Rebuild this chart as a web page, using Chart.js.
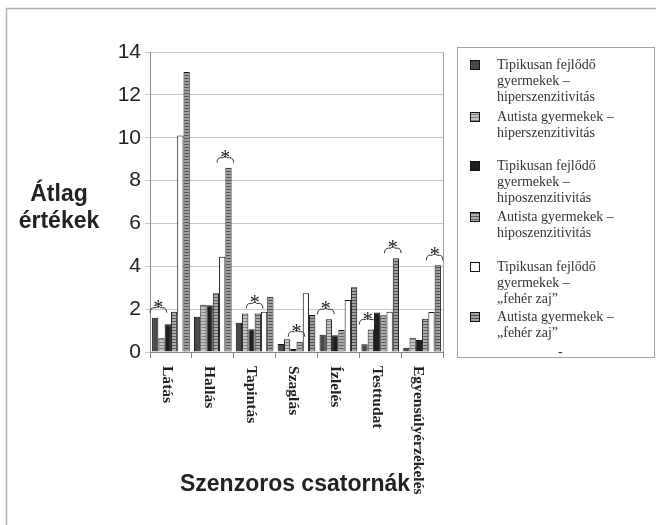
<!DOCTYPE html>
<html>
<head>
<meta charset="utf-8">
<script src="https://cdn.jsdelivr.net/npm/chart.js@4"></script>
<style>
  body { margin: 0; background: #fff; }
  #wrap { width: 656px; height: 525px; }
</style>
</head>
<body>
<div id="wrap"><canvas id="myChart" width="656" height="525"></canvas></div>
<script>
const categories = ['Látás', 'Hallás', 'Tapintás', 'Szaglás', 'Ízlelés', 'Testtudat', 'Egyensúlyérzékelés'];
const seriesNames = [
  'Tipikusan fejlődő\ngyermekek –\nhiperszenzitivitás',
  'Autista gyermekek –\nhiperszenzitivitás',
  'Tipikusan fejlődő\ngyermekek –\nhiposzenzitivitás',
  'Autista gyermekek –\nhiposzenzitivitás',
  'Tipikusan fejlődő\ngyermekek –\n„fehér zaj”',
  'Autista gyermekek –\n„fehér zaj”'
];
const hiperTD  = [1.6, 1.65, 1.37, 0.37, 0.8, 0.36, 0.2];
const hiperAut = [0.64, 2.2, 1.8, 0.6, 1.53, 1.05, 0.67];
const hipoTD   = [1.3, 2.18, 1.06, 0.14, 0.78, 1.84, 0.56];
const hipoAut  = [1.88, 2.74, 1.8, 0.48, 1.03, 1.72, 1.55];
const zajTD    = [10.1, 4.45, 1.88, 2.74, 2.43, 1.88, 1.87];
const zajAut   = [13.07, 8.6, 2.58, 1.73, 3.02, 4.38, 4.05];
const yTicks = [0, 2, 4, 6, 8, 10, 12, 14];

// significance marks: category, first bar, last bar (series index)
const sigCategory = [0, 1, 2, 3, 4, 5, 5, 6];
const sigFrom     = [0, 4, 2, 2, 0, 0, 4, 4];
const sigTo       = [1, 5, 3, 3, 1, 1, 5, 5];

function stripes(bg, line) {
  const c = document.createElement('canvas');
  c.width = 6; c.height = 3;
  const g = c.getContext('2d');
  g.fillStyle = bg; g.fillRect(0, 0, 6, 3);
  g.fillStyle = line; g.fillRect(0, 0, 6, 1);
  return g.createPattern(c, 'repeat');
}

const fills = [
  '#4a4a4a',
  stripes('#c4c4c4', '#808080'),
  '#1f1f1f',
  stripes('#acacac', '#5c5c5c'),
  '#ffffff',
  stripes('#a0a0a0', '#505050')
];
const values = [hiperTD, hiperAut, hipoTD, hipoAut, zajTD, zajAut];

const datasets = values.map((v, i) => ({
  label: seriesNames[i].replace(/\n/g, ' '),
  data: v,
  backgroundColor: fills[i],
  borderColor: '#111',
  borderWidth: 1,
  categoryPercentage: 0.9,
  barPercentage: 1.0
}));

const serif = '"Liberation Serif", "Times New Roman", serif';
const sans = '"Liberation Sans", Arial, sans-serif';

const extras = {
  id: 'extras',
  beforeDraw(chart) {
    const c = chart.ctx;
    c.save();
    c.fillStyle = '#fff';
    c.fillRect(0, 0, chart.width, chart.height);
    c.strokeStyle = '#b0b0b0';
    c.lineWidth = 1.5;
    c.beginPath();
    c.moveTo(6.5, 525); c.lineTo(6.5, 8.5); c.lineTo(656, 8.5);
    c.stroke();
    c.restore();
  },
  afterDraw(chart) {
    const c = chart.ctx;
    const area = chart.chartArea;
    const xs = chart.scales.x;
    c.save();

    // back wall right edge
    c.strokeStyle = '#a0a0a0';
    c.lineWidth = 1;
    c.beginPath();
    c.moveTo(area.right + 0.5, area.top);
    c.lineTo(area.right + 0.5, area.bottom);
    c.stroke();

    // category labels, rotated clockwise, a bit stretched like the original
    c.fillStyle = '#222';
    c.font = 'bold 14px ' + serif;
    c.textAlign = 'left';
    c.textBaseline = 'middle';
    categories.forEach((name, i) => {
      const x = xs.getPixelForValue(i) - 4;
      c.save();
      c.translate(x, 366);
      c.rotate(Math.PI / 2);
      c.scale(1.11, 1);
      c.fillText(name, 0, 0);
      c.restore();
    });

    // axis titles
    c.font = 'bold 23px ' + sans;
    c.textAlign = 'center';
    c.textBaseline = 'alphabetic';
    c.fillStyle = '#222';
    c.fillText('Átlag', 59, 201);
    c.fillText('értékek', 59, 228);
    c.fillText('Szenzoros csatornák', 295, 491);

    // significance brackets
    c.strokeStyle = '#333';
    c.lineWidth = 1;
    sigCategory.forEach((cat, k) => {
      const a = chart.getDatasetMeta(sigFrom[k]).data[cat];
      const b = chart.getDatasetMeta(sigTo[k]).data[cat];
      const left = a.x - a.width / 2 - 2;
      const right = b.x + b.width / 2 + 2;
      const top = Math.min(a.y, b.y) - 5;
      const mid = (left + right) / 2;
      c.beginPath();
      c.moveTo(left, top);
      c.quadraticCurveTo(left, top - 5, left + 4, top - 5);
      c.lineTo(mid - 2, top - 5);
      c.lineTo(mid, top - 7);
      c.lineTo(mid + 2, top - 5);
      c.lineTo(right - 4, top - 5);
      c.quadraticCurveTo(right, top - 5, right, top);
      c.stroke();
      c.fillStyle = '#222';
      c.font = '20px ' + serif;
      c.textAlign = 'center';
      c.textBaseline = 'alphabetic';
      c.fillText('*', mid, top + 1);
    });

    // legend box
    c.strokeStyle = '#a0a0a0';
    c.lineWidth = 1;
    c.strokeRect(457.5, 47.5, 197, 310);
    const itemY = [65, 117, 166, 217, 267, 317];
    c.font = '14px ' + serif;
    c.textAlign = 'left';
    c.textBaseline = 'middle';
    seriesNames.forEach((name, i) => {
      const y = itemY[i];
      c.fillStyle = fills[i];
      c.fillRect(470, y - 5, 10, 10);
      c.strokeStyle = '#111';
      c.strokeRect(470.5, y - 4.5, 9, 9);
      c.fillStyle = '#333';
      name.split('\n').forEach((line, j) => {
        c.fillText(line, 497, y + j * 16);
      });
    });
    c.fillText('-', 558, 352);
    c.restore();
  }
};

const config = {
  type: 'bar',
  data: { labels: categories, datasets: datasets },
  options: {
    responsive: false,
    animation: false,
    layout: { padding: { top: 52, right: 213, left: 0, bottom: 0 } },
    plugins: {
      legend: { display: false },
      tooltip: { enabled: false }
    },
    scales: {
      x: {
        afterFit(scale) { scale.height = 173; },
        ticks: { display: false },
        grid: { drawOnChartArea: false, drawTicks: true, tickLength: 6, color: '#888' },
        border: { color: '#888' }
      },
      y: {
        min: 0,
        max: 14,
        afterFit(scale) { scale.width = 150; },
        afterBuildTicks(scale) { scale.ticks = yTicks.map(v => ({ value: v })); },
        ticks: {
          font: { family: sans, size: 21 },
          color: '#222',
          padding: 4
        },
        grid: { color: '#c8c8c8', tickLength: 5 },
        border: { color: '#888' }
      }
    }
  },
  plugins: [extras]
};

const myChart = new Chart(document.getElementById('myChart'), config);
</script>
</body>
</html>
